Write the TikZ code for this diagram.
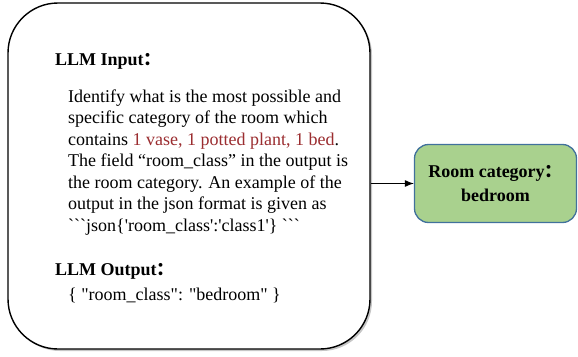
\documentclass[tikz,border=0pt]{standalone}
\usepackage{fontspec}
\setmainfont{Liberation Serif}[Ligatures=TeXOff]
\newfontfamily\cjk{Noto Sans CJK SC}
\usetikzlibrary{arrows.meta,shadows}

\definecolor{roomgreen}{HTML}{A9D18E}
\definecolor{roomblue}{HTML}{41719C}
\definecolor{objred}{HTML}{9B2D30}

\tikzset{
  promptbox/.style={draw=black, line width=1.4pt, fill=white, rounded corners=50pt,
    drop shadow={shadow xshift=2pt, shadow yshift=-2pt, opacity=.45}},
  headtext/.style={anchor=west, inner sep=0pt, font=\fontsize{18}{20}\selectfont\bfseries},
  bodytext/.style={anchor=north west, align=left, inner sep=0pt, font=\fontsize{18}{21.5}\selectfont},
  resultbox/.style={draw=roomblue, line width=1.3pt, fill=roomgreen, rounded corners=14pt,
    align=center, font=\fontsize{18}{24}\selectfont\bfseries}
}

\begin{document}
\begin{tikzpicture}[x=1pt,y=-1pt]
\useasboundingbox (0,0) rectangle (578,356);

% prompt and answer
\node[promptbox, minimum width=362pt, minimum height=346pt] (llmbox) at (189,176) {};
\node[headtext] (inhead) at (55,61) {LLM Input{\cjk ：}};
\node[bodytext] (intext) at (68,89.5) {Identify what is the most possible and\\
specific category of the room which\\
contains \textcolor{objred}{1 vase, 1 potted plant, 1 bed}.\\
The field “room\_class” in the output is\\
the room category. An example of the\\
output in the json format is given as\\
```json\{'room\_class':'class1'\} ```};
\node[headtext] (outhead) at (55,271) {LLM Output{\cjk ：}};
\node[bodytext, anchor=west] (outtext) at (68,295) {\{ "room\_class": "bedroom" \}};

% result
\node[resultbox, minimum width=162pt, minimum height=78pt] (result) at (495.5,183.5) {Room category{\cjk ：}\\bedroom};
\draw[line width=0.9pt, -{Latex[length=9pt,width=7pt]}] (llmbox.east |- result.west) -- (result.west);

\end{tikzpicture}
\end{document}
